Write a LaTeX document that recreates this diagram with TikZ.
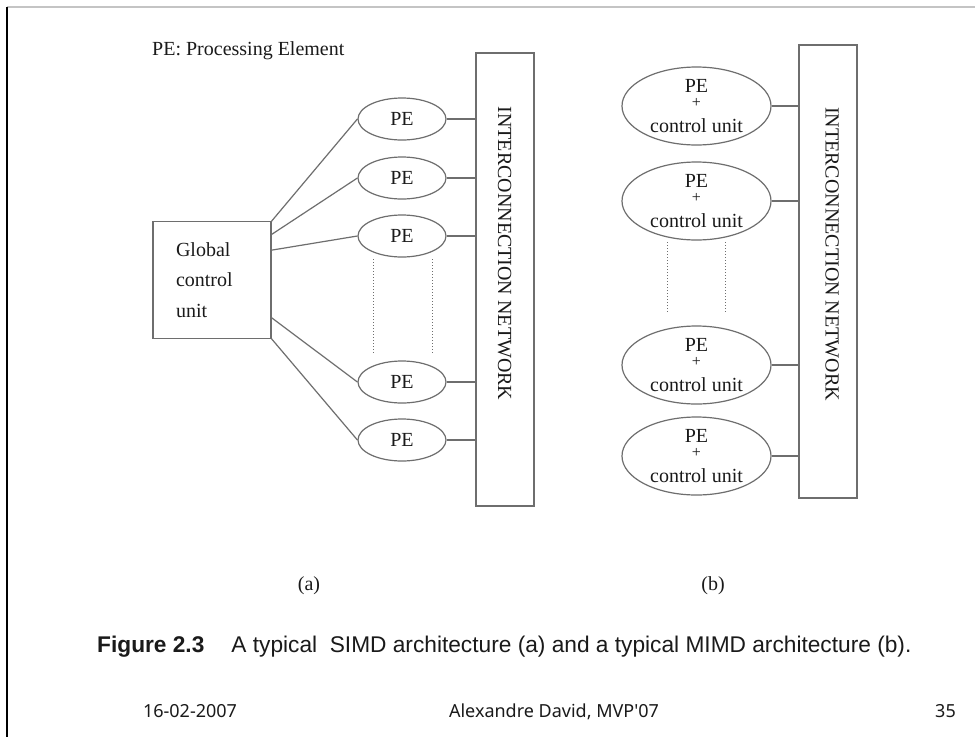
\documentclass[tikz,border=0pt]{standalone}
\usepackage{fontspec}
\setmainfont{Liberation Serif}
\newfontfamily\capfont{Liberation Sans}
\newfontfamily\footfont{Noto Sans}
\usetikzlibrary{shapes.geometric}
\definecolor{linegrey}{HTML}{6E6E6E}
\definecolor{inkc}{HTML}{1A1A1A}
\definecolor{topline}{HTML}{C4C4C4}
\begin{document}
\begin{tikzpicture}[x=1pt,y=-1pt,
  diag/.style={draw=linegrey, line width=1.2pt},
  pe/.style={ellipse, diag, minimum width=88pt, minimum height=42pt, inner sep=0pt,
    text=inkc, font=\fontsize{20}{24}\selectfont},
  pecu/.style={ellipse, diag, minimum width=149pt, minimum height=78pt, inner sep=0pt,
    text=inkc, align=center, font=\fontsize{20}{18}\selectfont},
  net/.style={rectangle, diag, minimum width=58pt, minimum height=453pt, inner sep=0pt},
  nettext/.style={rotate=-90, text=inkc, font=\fontsize{20}{24}\selectfont, inner sep=0pt},
  gcubox/.style={rectangle, diag, minimum width=117.5pt, minimum height=116.5pt,
    text width=72pt, inner xsep=23pt, inner ysep=0pt, align=left, text=inkc,
    font=\fontsize{20}{30.5}\selectfont},
  link/.style={draw=linegrey, line width=1.2pt},
  dotline/.style={draw=linegrey, line width=0.9pt, dash pattern=on 1.2pt off 1.8pt},
  serifnote/.style={text=inkc, font=\fontsize{20}{24}\selectfont, inner sep=0pt},
  captxt/.style={text=inkc, font=\capfont\fontsize{22.7}{26}\selectfont, inner sep=0pt},
  foottxt/.style={text=inkc, font=\footfont\fontsize{18}{22}\selectfont, inner sep=0pt}
]
\useasboundingbox (0,0) rectangle (975,737);
\fill[white] (0,0) rectangle (975,737);
% slide frame
\coordinate (frameTL) at (7,7);
\coordinate (frameTR) at (975,7);
\coordinate (frameBL) at (7,737);
\draw[topline, line width=1.2pt] (frameTL) -- (frameTR);
\draw[black, line width=1.3pt] (frameTL) -- (frameBL);

% legend
\node[serifnote, anchor=base west] (legend) at (152,55) {PE: Processing Element};

% ---------- (a) SIMD ----------
\node[net] (netL) at (505,279.5) {};
\node[nettext] (netLt) at (504.5,253.5) {INTERCONNECTION NETWORK};

\node[pe] (pa1) at (402,119) {PE};
\node[pe] (pa2) at (402,178) {PE};
\node[pe] (pa3) at (402,236) {PE};
\node[pe] (pa4) at (402,382) {PE};
\node[pe] (pa5) at (402,440) {PE};

\foreach \i in {1,...,5} {
  \draw[link] (pa\i.east) -- (pa\i.east -| netL.west);
}

\node[gcubox] (gcu) at (212,280) {Global\\control\\unit};
\coordinate (g1) at (gcu.north east);
\coordinate (g2) at ([yshift=-13.3pt]gcu.north east);
\coordinate (g3) at ([yshift=-29pt]gcu.north east);
\coordinate (g4) at ([yshift=-96.6pt]gcu.north east);
\coordinate (g5) at (gcu.south east);
\foreach \i in {1,...,5} {
  \draw[link] (g\i) -- (pa\i.west);
}

\coordinate (da1) at (373,259);
\coordinate (da2) at (373,353);
\coordinate (da3) at (432,259);
\coordinate (da4) at (432,353);
\draw[dotline] (da1) -- (da2);
\draw[dotline] (da3) -- (da4);

\node[serifnote, anchor=base] (capa) at (309,590) {(a)};

% ---------- (b) MIMD ----------
\node[net] (netR) at (828,271.5) {};
\node[nettext] (netRt) at (832,254) {INTERCONNECTION NETWORK};

\foreach \i/\yy in {1/106,2/201,3/365,4/456} {
  \node[pecu] (pb\i) at (696.5,\yy) {PE\\[-3.6pt]{\fontsize{16}{16}\selectfont +}\\[6.8pt]control unit};
  \draw[link] (pb\i.east) -- (pb\i.east -| netR.west);
}

\coordinate (db1) at (667,242);
\coordinate (db2) at (667,313);
\coordinate (db3) at (725,242);
\coordinate (db4) at (725,313);
\draw[dotline] (db1) -- (db2);
\draw[dotline] (db3) -- (db4);

\node[serifnote, anchor=base] (capb) at (713,590) {(b)};

% ---------- caption and footer ----------
\node[captxt, anchor=base west] (caption) at (97,652)
  {\textbf{Figure 2.3}\hspace{27pt}A typical\ \ SIMD architecture (a) and a typical MIMD architecture (b).};

\node[foottxt, anchor=base] (fdate) at (190,717) {16-02-2007};
\node[foottxt, anchor=base] (fauthor) at (554,717) {Alexandre David, MVP\textquotesingle07};
\node[foottxt, anchor=base] (fpage) at (945.5,717) {35};
\end{tikzpicture}
\end{document}
